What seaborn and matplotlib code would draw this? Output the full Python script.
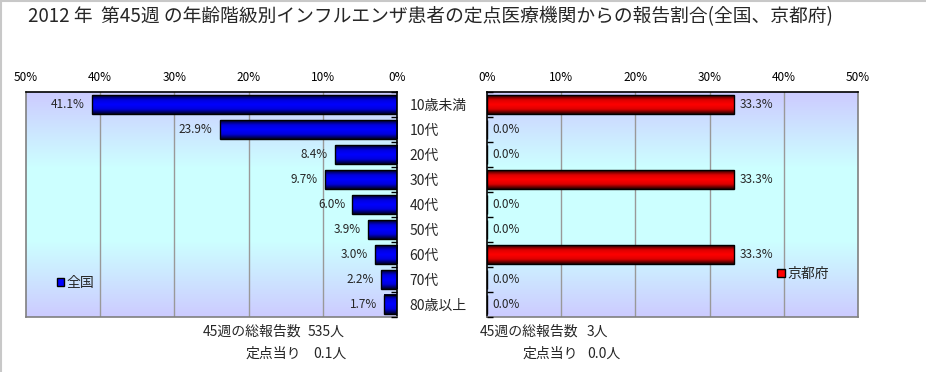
import numpy as np
import pandas as pd
import matplotlib
matplotlib.use("Agg")
import matplotlib.pyplot as plt
from matplotlib.patches import Patch
from matplotlib.colors import LinearSegmentedColormap
import seaborn as sns

# ---- data ----
categories = ["10歳未満", "10代", "20代", "30代", "40代", "50代", "60代", "70代", "80歳以上"]
national = [41.1, 23.9, 8.4, 9.7, 6.0, 3.9, 3.0, 2.2, 1.7]
kyoto = [33.3, 0.0, 0.0, 33.3, 0.0, 0.0, 33.3, 0.0, 0.0]
xticks = [0, 10, 20, 30, 40, 50]
title = "2012 年  第45週 の年齢階級別インフルエンザ患者の定点医療機関からの報告割合(全国、京都府)"
nat_total = "535人"
nat_per = "0.1人"
kyo_total = "3人"
kyo_per = "0.0人"

sns.set_theme(style="white")
plt.rcParams['font.family'] = ['Noto Sans CJK JP', 'DejaVu Sans']

W, H = 926, 372
fig = plt.figure(figsize=(W / 100, H / 100), dpi=100)

def px_axes(x0, y0, x1, y1):
    return fig.add_axes([x0 / W, 1 - y1 / H, (x1 - x0) / W, (y1 - y0) / H])

axL = px_axes(26, 92, 397, 317)
axR = px_axes(487, 92, 858, 317)

df = pd.DataFrame({"cat": categories, "全国": national, "京都府": kyoto})

bg_cmap = LinearSegmentedColormap.from_list("bg", ["#CCCCFF", "#CCFFFF", "#CCFFFF", "#CCCCFF"])
blue_cmap = LinearSegmentedColormap.from_list("bl", ["#000022", "#0000DD", "#0000FF", "#0000DD", "#000022"])
red_cmap = LinearSegmentedColormap.from_list("rd", ["#220000", "#DD0000", "#FF0000", "#DD0000", "#220000"])
grad = np.linspace(0, 1, 64).reshape(-1, 1)

def style_axes(ax, col, cmap, color, left_side):
    sns.barplot(data=df, y="cat", x=col, orient="h", ax=ax, color=color,
                width=0.76, edgecolor="black", linewidth=1.0, saturation=1)
    ax.set_xlim(50, 0) if left_side else ax.set_xlim(0, 50)
    ax.set_ylim(8.5, -0.5)
    # background gradient
    ax.imshow(grad, cmap=bg_cmap, aspect="auto", extent=(0, 1, 0, 1),
              transform=ax.transAxes, zorder=0, interpolation="bicubic")
    # gradient fill for bars
    for p in ax.patches:
        x, y, w, h = p.get_x(), p.get_y(), p.get_width(), p.get_height()
        if w <= 0:
            continue
        ax.imshow(grad, cmap=cmap, aspect="auto",
                  extent=(x, x + w, y + h, y), zorder=2, interpolation="bicubic")
        p.set_facecolor("none")
        p.set_zorder(3)
    ax.set_xlim(50, 0) if left_side else ax.set_xlim(0, 50)
    ax.set_ylim(8.5, -0.5)
    ax.set_xlabel("")
    ax.set_ylabel("")
    ax.set_xticks(xticks)
    ax.set_xticklabels([f"{t}%" for t in xticks])
    ax.xaxis.tick_top()
    ax.tick_params(axis="x", length=0, pad=6, labelsize=8.5, colors="black")
    for t in [10, 20, 30, 40]:
        ax.axvline(t, color="#999999", lw=1, zorder=1)
    for s in ax.spines.values():
        s.set_color("#808080")
        s.set_linewidth(1.2)
        s.set_visible(True)
    ax.spines["top"].set_color("black")
    ax.set_yticks(np.arange(-0.5, 9.0, 1.0), minor=True)
    if left_side:
        ax.spines["right"].set_color("black")
        ax.yaxis.tick_right()
        ax.tick_params(axis="y", which="major", length=0, pad=9, labelsize=10,
                       labelright=True, labelleft=False)
        ax.tick_params(axis="y", which="minor", direction="in", length=4, width=1,
                       right=True, left=False, color="black")
    else:
        ax.spines["left"].set_color("black")
        ax.tick_params(axis="y", which="major", length=0, labelleft=False, labelright=False)
        ax.tick_params(axis="y", which="minor", direction="in", length=4, width=1,
                       left=True, right=False, color="black")
    ax.set_axisbelow(False)

style_axes(axL, "全国", blue_cmap, "#0000FF", True)
style_axes(axR, "京都府", red_cmap, "#FF0000", False)

for i, v in enumerate(national):
    axL.annotate(f"{v:.1f}%", xy=(v, i), xytext=(-5, 0), textcoords="offset points",
                 ha="right", va="center", fontsize=8.5, zorder=5)
for i, v in enumerate(kyoto):
    axR.annotate(f"{v:.1f}%", xy=(v, i), xytext=(4, 0), textcoords="offset points",
                 ha="left", va="center", fontsize=8.5, zorder=5)

axL.legend(handles=[Patch(facecolor="#0000FF", edgecolor="black", label="全国")],
           loc="center left", bbox_to_anchor=(0.083, 0.151), frameon=False,
           handlelength=0.55, handleheight=0.55, handletextpad=0.15,
           borderpad=0, borderaxespad=0, fontsize=10)
axR.legend(handles=[Patch(facecolor="#FF0000", edgecolor="black", label="京都府")],
           loc="center left", bbox_to_anchor=(0.783, 0.191), frameon=False,
           handlelength=0.55, handleheight=0.55, handletextpad=0.15,
           borderpad=0, borderaxespad=0, fontsize=10)

fig.text(430 / W, 1 - 17 / H, title, ha="center", va="center", fontsize=13.5)

def ftext(x, y, s, ha):
    fig.text(x / W, 1 - y / H, s, ha=ha, va="center", fontsize=10)

ftext(301, 332, "45週の総報告数", "right")
ftext(308, 332, nat_total, "left")
ftext(301, 354, "定点当り", "right")
ftext(313, 354, nat_per, "left")
ftext(578, 332, "45週の総報告数", "right")
ftext(587, 332, kyo_total, "left")
ftext(578, 354, "定点当り", "right")
ftext(587, 354, kyo_per, "left")

# figure border (top and left)
fig.add_artist(plt.Line2D([0, 1], [1 - 0.5 / H, 1 - 0.5 / H], transform=fig.transFigure,
                          color="#C8C8C8", lw=1.5))
fig.add_artist(plt.Line2D([0.5 / W, 0.5 / W], [0, 1], transform=fig.transFigure,
                          color="#C8C8C8", lw=1.5))

fig.savefig("out.png", dpi=100)
